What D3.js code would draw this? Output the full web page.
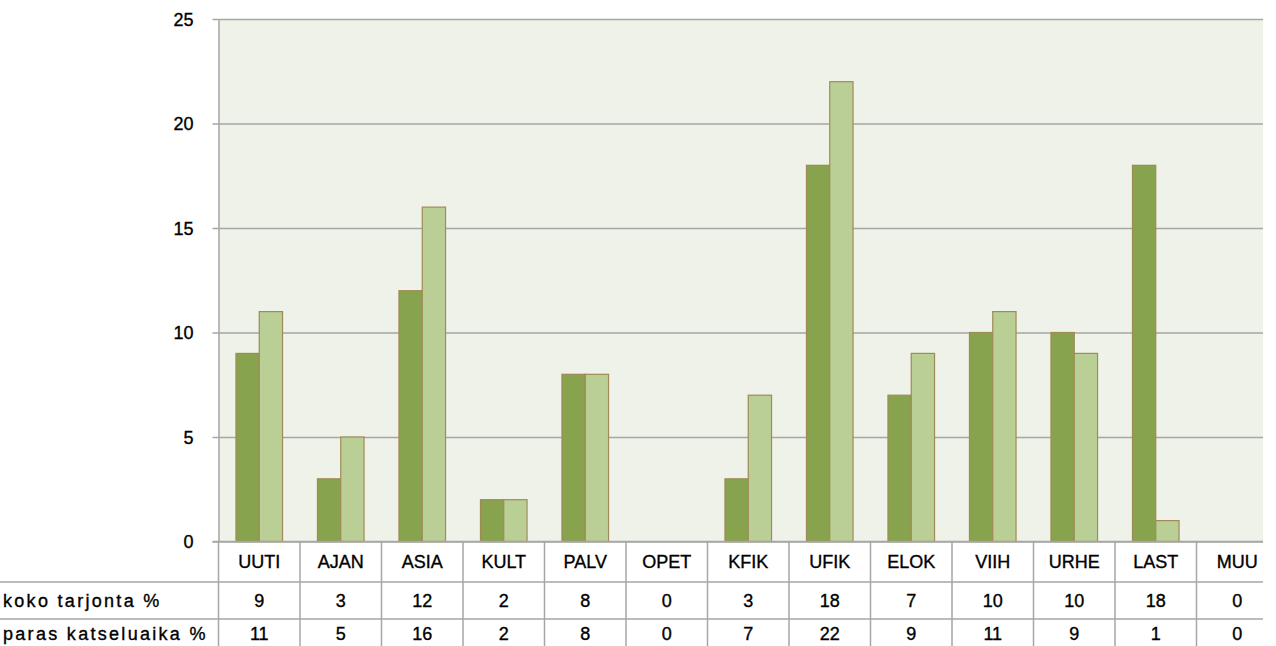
<!DOCTYPE html>
<html lang="fi">
<head>
  <meta charset="UTF-8" />
  <title>Tarjonta ja paras katseluaika</title>
  <script src="https://cdn.jsdelivr.net/npm/d3@7"></script>
  <style>
    body { margin: 0; background: #fff; }
    svg { display: block; font-family: "Liberation Sans", Arial, sans-serif; }
    .tick text, .cell { font-size: 18px; fill: #000; stroke: #000; stroke-width: 0.35px; }
    .rowlabel { letter-spacing: 2.3px; }
  </style>
</head>
<body>
<script>
  const categories = ["UUTI", "AJAN", "ASIA", "KULT", "PALV", "OPET", "KFIK", "UFIK", "ELOK", "VIIH", "URHE", "LAST", "MUU"];
  const seriesNames = ["koko tarjonta %", "paras katseluaika %"];
  const kokoTarjonta = [9, 3, 12, 2, 8, 0, 3, 18, 7, 10, 10, 18, 0];
  const parasKatseluaika = [11, 5, 16, 2, 8, 0, 7, 22, 9, 11, 9, 1, 0];
  const yTicks = [0, 5, 10, 15, 20, 25];

  const seriesValues = [kokoTarjonta, parasKatseluaika];
  const colors = ["#87a34d", "#bacf96"];

  const width = 1263, height = 646;
  const plotLeft = 218.5, plotTop = 19, zeroY = 541.5;
  const step = 81.5;
  const rowLines = [582, 619, 656];

  const svg = d3.select("body").append("svg")
    .attr("width", width).attr("height", height);

  const x = d3.scaleBand().domain(categories)
    .range([plotLeft, plotLeft + step * categories.length]).padding(0);
  const xs = d3.scaleBand().domain(d3.range(seriesNames.length))
    .range([0, x.bandwidth()]).paddingInner(0).paddingOuter(0.75);
  const y = d3.scaleLinear().domain([0, 25]).range([zeroY, plotTop]);

  // plot background
  svg.append("rect")
    .attr("x", plotLeft).attr("y", y(25))
    .attr("width", width - plotLeft).attr("height", zeroY - y(25))
    .attr("fill", "#eff2e9");

  // grid lines + tick marks
  const grid = svg.append("g").attr("transform", `translate(${plotLeft},0)`)
    .call(d3.axisLeft(y).tickValues(yTicks).tickSize(-(width - plotLeft)).tickFormat(""));
  grid.select(".domain").remove();
  grid.selectAll(".tick line").attr("stroke", "#a6a6a6").attr("stroke-width", 1.5);

  const yAxis = svg.append("g").attr("transform", `translate(${plotLeft},0)`)
    .call(d3.axisLeft(y).tickValues(yTicks).tickSize(6).tickPadding(19).tickSizeOuter(0));
  yAxis.select(".domain").attr("stroke", "#a6a6a6").attr("stroke-width", 1.5);
  yAxis.selectAll(".tick line").attr("stroke", "#a6a6a6").attr("stroke-width", 1.5);
  yAxis.selectAll(".tick text").attr("dy", "0.35em");

  // bars
  seriesValues.forEach((vals, s) => {
    svg.append("g").selectAll("rect")
      .data(categories.map((c, i) => ({ c, v: vals[i] })).filter(d => d.v > 0))
      .join("rect")
      .attr("x", d => x(d.c) + xs(s))
      .attr("y", d => y(d.v))
      .attr("width", xs.bandwidth())
      .attr("height", d => y(0) - y(d.v))
      .attr("fill", colors[s])
      .attr("stroke", "#a08a55")
      .attr("stroke-width", 1.2);
  });

  // data table
  const table = svg.append("g");
  table.selectAll("line.v")
    .data(d3.range(categories.length + 1))
    .join("line")
    .attr("x1", i => plotLeft + i * step).attr("x2", i => plotLeft + i * step)
    .attr("y1", zeroY).attr("y2", height)
    .attr("stroke", "#a6a6a6").attr("stroke-width", 1.5);
  table.selectAll("line.h")
    .data(rowLines)
    .join("line")
    .attr("x1", 0).attr("x2", width)
    .attr("y1", d => d).attr("y2", d => d)
    .attr("stroke", "#a6a6a6").attr("stroke-width", 1.5);
  svg.append("line")
    .attr("x1", plotLeft - 6).attr("x2", width)
    .attr("y1", zeroY).attr("y2", zeroY)
    .attr("stroke", "#a6a6a6").attr("stroke-width", 1.5);

  table.selectAll("text.head")
    .data(categories)
    .join("text")
    .attr("class", "cell")
    .attr("x", d => x(d) + x.bandwidth() / 2)
    .attr("y", (zeroY + rowLines[0]) / 2)
    .attr("dy", "0.35em")
    .attr("text-anchor", "middle")
    .text(d => d);

  seriesValues.forEach((vals, s) => {
    // last row is cropped by the picture edge; keep its text inside the frame
    const yc = Math.min((rowLines[s] + rowLines[s + 1]) / 2, height - 12);
    table.append("text")
      .attr("class", "cell rowlabel")
      .attr("x", 3).attr("y", yc).attr("dy", "0.35em")
      .text(seriesNames[s]);
    table.selectAll(null)
      .data(vals)
      .join("text")
      .attr("class", "cell")
      .attr("x", (d, i) => x(categories[i]) + x.bandwidth() / 2)
      .attr("y", yc).attr("dy", "0.35em")
      .attr("text-anchor", "middle")
      .text(d => d);
  });
</script>
</body>
</html>
